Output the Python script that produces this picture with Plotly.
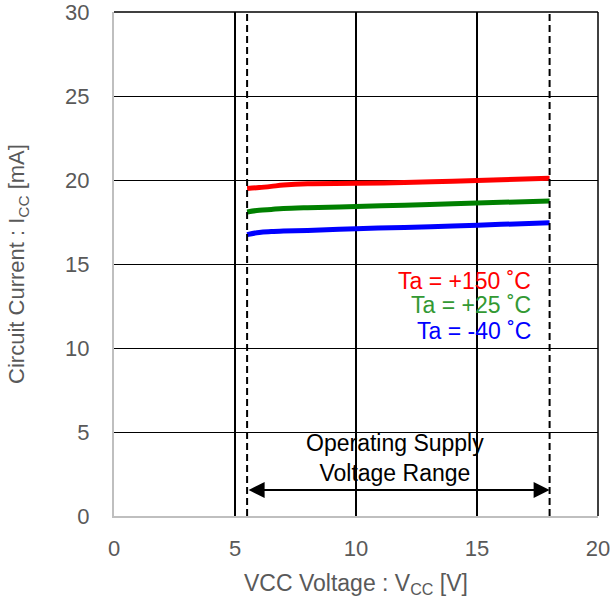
import plotly.graph_objects as go

# Data
vcc = [5.5, 6.0, 6.5, 7.0, 8.0, 10.0, 12.0, 14.0, 16.0, 18.0]
icc_150 = [19.5, 19.55, 19.62, 19.7, 19.78, 19.8, 19.85, 19.93, 20.02, 20.1]
icc_25 = [18.1, 18.2, 18.25, 18.3, 18.35, 18.42, 18.5, 18.58, 18.67, 18.75]
icc_m40 = [16.75, 16.88, 16.93, 16.96, 17.0, 17.1, 17.18, 17.26, 17.36, 17.45]
series_names = ["Ta = +150 ˚C", "Ta = +25 ˚C", "Ta = -40 ˚C"]
series_colors = ["#ff0000", "#008000", "#0000ff"]
label_colors = ["#ff0000", "#339933", "#0000ff"]
label_y = [14.0, 12.55, 11.0]
label_x = 17.3
vmin, vmax = 5.5, 18.0
arrow_y = 1.55
range_text = "Operating Supply<br>Voltage Range"
range_text_xy = (11.6, 3.45)
x_ticks = [0, 5, 10, 15, 20]
y_ticks = [0, 5, 10, 15, 20, 25, 30]

FONT = "Liberation Sans, Arial, sans-serif"
fig = go.Figure()
for ys, name, col in zip([icc_150, icc_25, icc_m40], series_names, series_colors):
    fig.add_trace(go.Scatter(x=vcc, y=ys, mode="lines", name=name,
                             line=dict(color=col, width=5, shape="spline"),
                             showlegend=False))

# dashed operating range lines
for xv in (vmin, vmax):
    fig.add_shape(type="line", xref="x", yref="paper", x0=xv, x1=xv, y0=0, y1=1,
                  line=dict(color="black", width=2, dash="7px,4px"))

# borders top and right
fig.add_shape(type="line", xref="paper", yref="paper", x0=0, x1=1, y0=1, y1=1,
              line=dict(color="black", width=1.5))
fig.add_shape(type="line", xref="paper", yref="paper", x0=1, x1=1, y0=0, y1=1,
              line=dict(color="black", width=1.5))

# series labels
for name, col, yy in zip(series_names, label_colors, label_y):
    fig.add_annotation(x=label_x, y=yy, xref="x", yref="y", text=name,
                       showarrow=False, xanchor="right", yanchor="middle",
                       font=dict(family=FONT, size=23, color=col))

# double arrow
fig.add_annotation(x=vmax, y=arrow_y, ax=vmin, ay=arrow_y, xref="x", yref="y",
                   axref="x", ayref="y", text="", showarrow=True,
                   arrowhead=2, startarrowhead=2, arrowside="end+start",
                   arrowsize=1.6, startarrowsize=1.6, arrowwidth=2, arrowcolor="black")
fig.add_annotation(x=range_text_xy[0], y=range_text_xy[1], xref="x", yref="y",
                   text=range_text, showarrow=False,
                   font=dict(family=FONT, size=23, color="black"))

fig.update_layout(
    width=612, height=603,
    margin=dict(l=114, r=14, t=12, b=87, autoexpand=False),
    paper_bgcolor="white", plot_bgcolor="white",
    font=dict(family=FONT, size=22, color="#595959"),
    xaxis=dict(range=[0, 20], tickvals=x_ticks, showgrid=True, gridcolor="black",
               gridwidth=1.5, zeroline=False, showline=True, linecolor="#bfbfbf",
               linewidth=2, ticks="outside", ticklen=12, tickcolor="white",
               automargin=False, ticklabeloverflow="allow",
               title=dict(text="VCC Voltage : V<sub>CC</sub> [V]", standoff=14,
                          font=dict(size=23, color="#595959"))),
    yaxis=dict(range=[0, 30], tickvals=y_ticks, showgrid=True, gridcolor="black",
               gridwidth=1, zeroline=False, showline=True, linecolor="#bfbfbf",
               linewidth=2, ticks="outside", ticklen=18, tickcolor="white",
               automargin=False, ticklabeloverflow="allow",
               title=dict(text="Circuit Current : I<sub>CC</sub> [mA]", standoff=34,
                          font=dict(size=22, color="#595959"))),
)
fig.write_html("out.html")
